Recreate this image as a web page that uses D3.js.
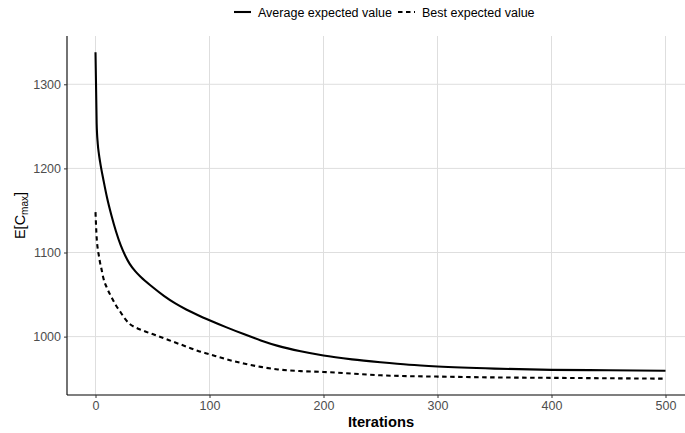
<!DOCTYPE html>
<html>
<head>
<meta charset="utf-8">
<script src="https://cdn.jsdelivr.net/npm/d3@7"></script>
<style>
  body { margin: 0; background: #fff; }
  svg { display: block; font-family: "Liberation Sans", Arial, sans-serif; }
</style>
</head>
<body>
<svg id="chart" width="685" height="433"></svg>
<script>
// iterations where the curves were sampled
var iterations = [0, 1, 2, 3, 4, 5, 7, 10, 14, 18, 22, 26, 30, 35, 40, 50, 60, 70, 80, 90, 100,
    115, 130, 145, 160, 180, 200, 225, 250, 275, 300, 350, 400, 450, 500];

var averageValues = [1338, 1254, 1229, 1217, 1208, 1200, 1186, 1166, 1144, 1125, 1109, 1096.5, 1086.5,
    1077.5, 1070.5, 1059, 1048.5, 1039.5, 1032, 1025.5, 1019.5, 1011, 1003, 995.5, 989, 982.5,
    977.5, 973, 969.5, 966.5, 964.5, 962, 960.5, 960, 959.5];

var bestValues = [1148, 1118, 1104, 1096, 1088, 1082, 1069, 1058, 1047, 1037, 1029, 1021, 1015,
    1011, 1008, 1003, 998, 993, 988, 983, 979, 973, 968, 964, 961, 959, 958, 956, 954, 953,
    952.5, 951.5, 951, 950.5, 950];

var xTicks = [0, 100, 200, 300, 400, 500];
var yTicks = [1000, 1100, 1200, 1300];

var seriesNames = ["Average expected value", "Best expected value"];

var svg = d3.select("#chart");

var panel = {left: 67, right: 694, top: 36, bottom: 395};

// ggplot style 5% expansion on both axes
var allValues = averageValues.concat(bestValues);
var yMin = d3.min(allValues), yMax = d3.max(allValues);
var yPad = (yMax - yMin) * 0.05;
var xPad = (d3.max(iterations) - d3.min(iterations)) * 0.05;

var x = d3.scaleLinear()
    .domain([d3.min(iterations) - xPad, d3.max(iterations) + xPad])
    .range([panel.left, panel.right]);

var y = d3.scaleLinear()
    .domain([yMin - yPad, yMax + yPad])
    .range([panel.bottom, panel.top]);

// grid lines
var grid = svg.append("g");
grid.selectAll(".vgrid").data(xTicks).enter().append("line")
    .attr("x1", function (d) { return x(d); })
    .attr("x2", function (d) { return x(d); })
    .attr("y1", panel.top)
    .attr("y2", panel.bottom)
    .attr("stroke", "#dedede")
    .attr("stroke-width", 1);
grid.selectAll(".hgrid").data(yTicks).enter().append("line")
    .attr("x1", panel.left)
    .attr("x2", panel.right)
    .attr("y1", function (d) { return y(d); })
    .attr("y2", function (d) { return y(d); })
    .attr("stroke", "#dedede")
    .attr("stroke-width", 1);

// lines
var line = d3.line()
    .x(function (d) { return x(d[0]); })
    .y(function (d) { return y(d[1]); })
    .curve(d3.curveMonotoneX);

svg.append("path")
    .datum(d3.zip(iterations, averageValues))
    .attr("d", line)
    .attr("fill", "none")
    .attr("stroke", "#000")
    .attr("stroke-width", 2.1);

svg.append("path")
    .datum(d3.zip(iterations, bestValues))
    .attr("d", line)
    .attr("fill", "none")
    .attr("stroke", "#000")
    .attr("stroke-width", 2.1)
    .attr("stroke-dasharray", "4.5,3.5");

// axes
var xAxis = d3.axisBottom(x).tickValues(xTicks).tickFormat(d3.format("d")).tickSize(3).tickPadding(3);
var yAxis = d3.axisLeft(y).tickValues(yTicks).tickFormat(d3.format("d")).tickSize(3).tickPadding(3);

var gx = svg.append("g")
    .attr("transform", "translate(0," + panel.bottom + ")")
    .call(xAxis);
var gy = svg.append("g")
    .attr("transform", "translate(" + panel.left + ",0)")
    .call(yAxis);

[gx, gy].forEach(function (g) {
    g.select(".domain").attr("stroke", "#000").attr("stroke-width", 1.1);
    g.selectAll(".tick line").attr("stroke", "#333").attr("stroke-width", 1);
    g.selectAll(".tick text")
        .attr("fill", "#4d4d4d")
        .style("font-size", "12.5px")
        .style("font-family", "Liberation Sans, Arial, sans-serif");
});
gy.select(".domain").attr("d", "M0," + panel.top + "V" + panel.bottom);
gx.select(".domain").attr("d", "M" + panel.left + ",0H" + panel.right);

// axis titles
svg.append("text")
    .attr("x", (95 + 667) / 2)
    .attr("y", 427)
    .attr("text-anchor", "middle")
    .style("font-size", "14.7px")
    .style("font-weight", "bold")
    .text("Iterations");

var yTitle = svg.append("text")
    .attr("transform", "translate(25," + ((panel.top + panel.bottom) / 2) + ") rotate(-90)")
    .attr("text-anchor", "middle")
    .style("font-size", "14.5px");
yTitle.append("tspan").text("E[C");
yTitle.append("tspan").attr("dy", 3).style("font-size", "10px").text("max");
yTitle.append("tspan").attr("dy", -3).text("]");

// legend
var legend = svg.append("g").attr("transform", "translate(0,12)");
var legendItems = [
    {name: seriesNames[0], x: 234, dash: null},
    {name: seriesNames[1], x: 398, dash: "4.5,3.5"}
];
legendItems.forEach(function (item) {
    legend.append("line")
        .attr("x1", item.x)
        .attr("x2", item.x + 17)
        .attr("y1", 0)
        .attr("y2", 0)
        .attr("stroke", "#000")
        .attr("stroke-width", 2.1)
        .attr("stroke-dasharray", item.dash);
    legend.append("text")
        .attr("x", item.x + 24)
        .attr("y", 4.5)
        .style("font-size", "12.5px")
        .text(item.name);
});
</script>
</body>
</html>
